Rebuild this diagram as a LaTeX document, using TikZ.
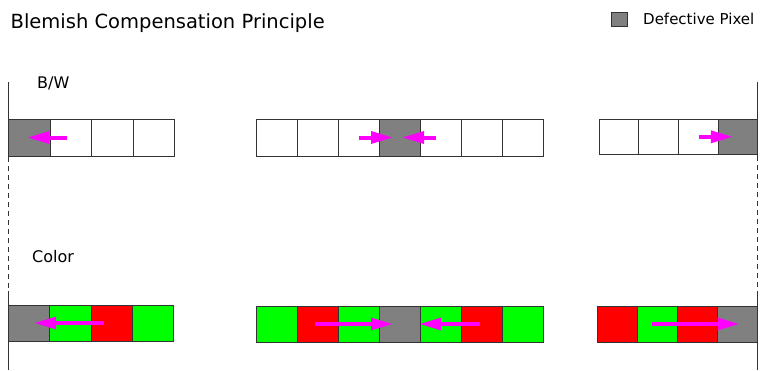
\documentclass[tikz,border=0pt]{standalone}
\usepackage{fontspec}
\setmainfont{DejaVu Sans}
\usetikzlibrary{arrows.meta}
\definecolor{pixgray}{HTML}{808080}
\definecolor{pixgreen}{HTML}{00FF00}
\definecolor{pixred}{HTML}{FF0000}
\definecolor{arrmag}{HTML}{FF00FF}
\definecolor{edge}{HTML}{333333}
\tikzset{
  cellbox/.style={draw=edge, line width=0.8pt, inner sep=0pt, outer sep=0pt},
  wcell/.style={cellbox, fill=white},
  gcell/.style={cellbox, fill=pixgray},
  grcell/.style={cellbox, fill=pixgreen},
  rcell/.style={cellbox, fill=pixred},
  arr/.style={draw=arrmag, line width=4pt, -{Triangle[length=21pt,width=13pt,line width=0pt]}},
  vline/.style={draw=black!80, line width=1pt},
  vdash/.style={draw=black!80, line width=1pt, dash pattern=on 5pt off 4pt},
  lbl/.style={inner sep=0pt, anchor=base west, font=\fontsize{15pt}{18pt}\selectfont},
  rowlbl/.style={inner sep=0pt, anchor=base west, font=\fontsize{16pt}{19pt}\selectfont},
}
\begin{document}
\begin{tikzpicture}[x=1pt, y=-1pt]
\useasboundingbox (0,0) rectangle (760,370);

% titles
\node[inner sep=0pt, anchor=base west, font=\fontsize{19.5pt}{23pt}\selectfont] (title) at (10.5,28) {Blemish Compensation Principle};
\node[gcell, minimum width=16pt, minimum height=14pt] (legbox) at (619,19) {};
\node[lbl] (legtxt) at (643,24) {Defective Pixel};
\node[rowlbl] (bw) at (37,88) {B/W};
\node[rowlbl] (col) at (32,262) {Color};

% vertical boundary lines
\coordinate (La) at (8.5,82);
\coordinate (Lb) at (8.5,157);
\coordinate (Lc) at (8.5,291);
\coordinate (Ld) at (8.5,370);
\coordinate (Ra) at (757.5,82);
\coordinate (Rb) at (757.5,156);
\coordinate (Rc) at (757.5,291);
\coordinate (Rd) at (757.5,370);
\draw[vline] (La) -- (Lb);
\draw[vdash] (Lb) -- (Lc);
\draw[vline] (Lc) -- (Ld);
\draw[vline] (Ra) -- (Rb);
\draw[vdash] (Rb) -- (Rc);
\draw[vline] (Rc) -- (Rd);

% B/W row, left group
\foreach \i/\s in {1/gcell,2/wcell,3/wcell,4/wcell}{
  \node[\s, minimum width=41.5pt, minimum height=37pt] (bl\i) at ({8.5+41.5*(\i-0.5)},137.5) {};
}
% B/W row, middle group
\foreach \i/\s in {1/wcell,2/wcell,3/wcell,4/gcell,5/wcell,6/wcell,7/wcell}{
  \node[\s, minimum width=41pt, minimum height=37pt] (bm\i) at ({256+41*(\i-0.5)},137.5) {};
}
% B/W row, right group
\foreach \i/\s in {1/wcell,2/wcell,3/wcell,4/gcell}{
  \node[\s, minimum width=39.7pt, minimum height=35.5pt] (br\i) at ({599+39.7*(\i-0.5)},136.8) {};
}

% Color row, left group
\foreach \i/\s in {1/gcell,2/grcell,3/rcell,4/grcell}{
  \node[\s, minimum width=41.2pt, minimum height=36pt] (cl\i) at ({8.5+41.2*(\i-0.5)},323) {};
}
% Color row, middle group
\foreach \i/\s in {1/grcell,2/rcell,3/grcell,4/gcell,5/grcell,6/rcell,7/grcell}{
  \node[\s, minimum width=41pt, minimum height=36pt] (cm\i) at ({256+41*(\i-0.5)},324) {};
}
% Color row, right group
\foreach \i/\s in {1/rcell,2/grcell,3/rcell,4/gcell}{
  \node[\s, minimum width=40pt, minimum height=36pt] (cr\i) at ({597.5+40*(\i-0.5)},324) {};
}

% B/W arrows
\draw[arr] ([xshift=-4pt]bl2.center) -- ([xshift=-1pt]bl1.center);
\draw[arr] (bm3.center) -- ([xshift=-7.5pt]bm4.center);
\draw[arr] ([xshift=-4.5pt]bm5.center) -- ([xshift=3.5pt]bm4.center);
\draw[arr] ([xshift=1pt]br3.center) -- ([xshift=-6pt]br4.center);

% Color arrows
\draw[arr] ([xshift=-8pt]cl3.center) -- ([xshift=6pt]cl1.center);
\draw[arr] ([xshift=-2.5pt]cm2.center) -- ([xshift=-7.5pt]cm4.center);
\draw[arr] ([xshift=-2pt]cm6.center) -- ([xshift=20.5pt]cm4.center);
\draw[arr] ([xshift=-6pt]cr2.center) -- ([xshift=1pt]cr4.center);
\end{tikzpicture}
\end{document}
